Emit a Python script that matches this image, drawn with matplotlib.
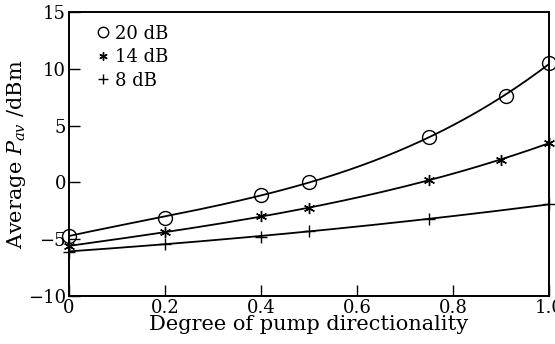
import numpy as np
import matplotlib.pyplot as plt

plt.rcParams['font.family'] = ['DejaVu Serif']
plt.rcParams['mathtext.fontset'] = 'dejavuserif'

# данные
x_20 = [0.0, 0.2, 0.4, 0.5, 0.75, 0.91, 1.0]
p_20 = [-4.7, -3.1, -1.1, 0.0, 4.0, 7.6, 10.5]

x_14 = [0.0, 0.2, 0.4, 0.5, 0.75, 0.9, 1.0]
p_14 = [-5.6, -4.4, -3.0, -2.25, 0.2, 2.0, 3.45]

x_8 = [0.0, 0.2, 0.4, 0.5, 0.75, 1.0]
p_8 = [-6.1, -5.4, -4.8, -4.3, -3.2, -1.95]

labels = ['20 dB', '14 dB', '8 dB']
asterisk = (6, 2, 0)

fig = plt.figure(figsize=(5.55, 3.44), dpi=100)
ax = fig.add_axes([0.124, 0.140, 0.865, 0.825])

xs = np.linspace(0, 1, 200)
for x, p, m, ms, lab in [(x_20, p_20, 'o', 10, labels[0]),
                         (x_14, p_14, asterisk, 8, labels[1]),
                         (x_8, p_8, '+', 9, labels[2])]:
    coef = np.polyfit(x, p, 3)
    ax.plot(xs, np.polyval(coef, xs), color='black', lw=1.3)
    ax.plot(x, p, linestyle='none', marker=m, ms=ms, mfc='none',
            mec='black', mew=1.0, label=lab, clip_on=False)

ax.set_xlim(0, 1.0)
ax.set_ylim(-10, 15)
ax.set_xticks([0, 0.2, 0.4, 0.6, 0.8, 1.0])
ax.set_xticklabels(['0', '0.2', '0.4', '0.6', '0.8', '1.0'])
ax.set_yticks([-10, -5, 0, 5, 10, 15])
ax.set_yticklabels(['\u221210', '\u22125', '0', '5', '10', '15'])
ax.tick_params(direction='in', length=8, width=1, labelsize=13, pad=2)
for s in ax.spines.values():
    s.set_linewidth(1.4)

ax.set_xlabel('Degree of pump directionality', fontsize=15, labelpad=-1)
ax.set_ylabel('Average $P_{av}$ /dBm', fontsize=15, labelpad=0)

ax.legend(loc='upper left', frameon=False, fontsize=13, handlelength=0.5,
          handletextpad=0.4, labelspacing=0.3, borderaxespad=0.3,
          markerscale=0.75, bbox_to_anchor=(0.035, 1.0))

fig.savefig('out.png', dpi=100)
